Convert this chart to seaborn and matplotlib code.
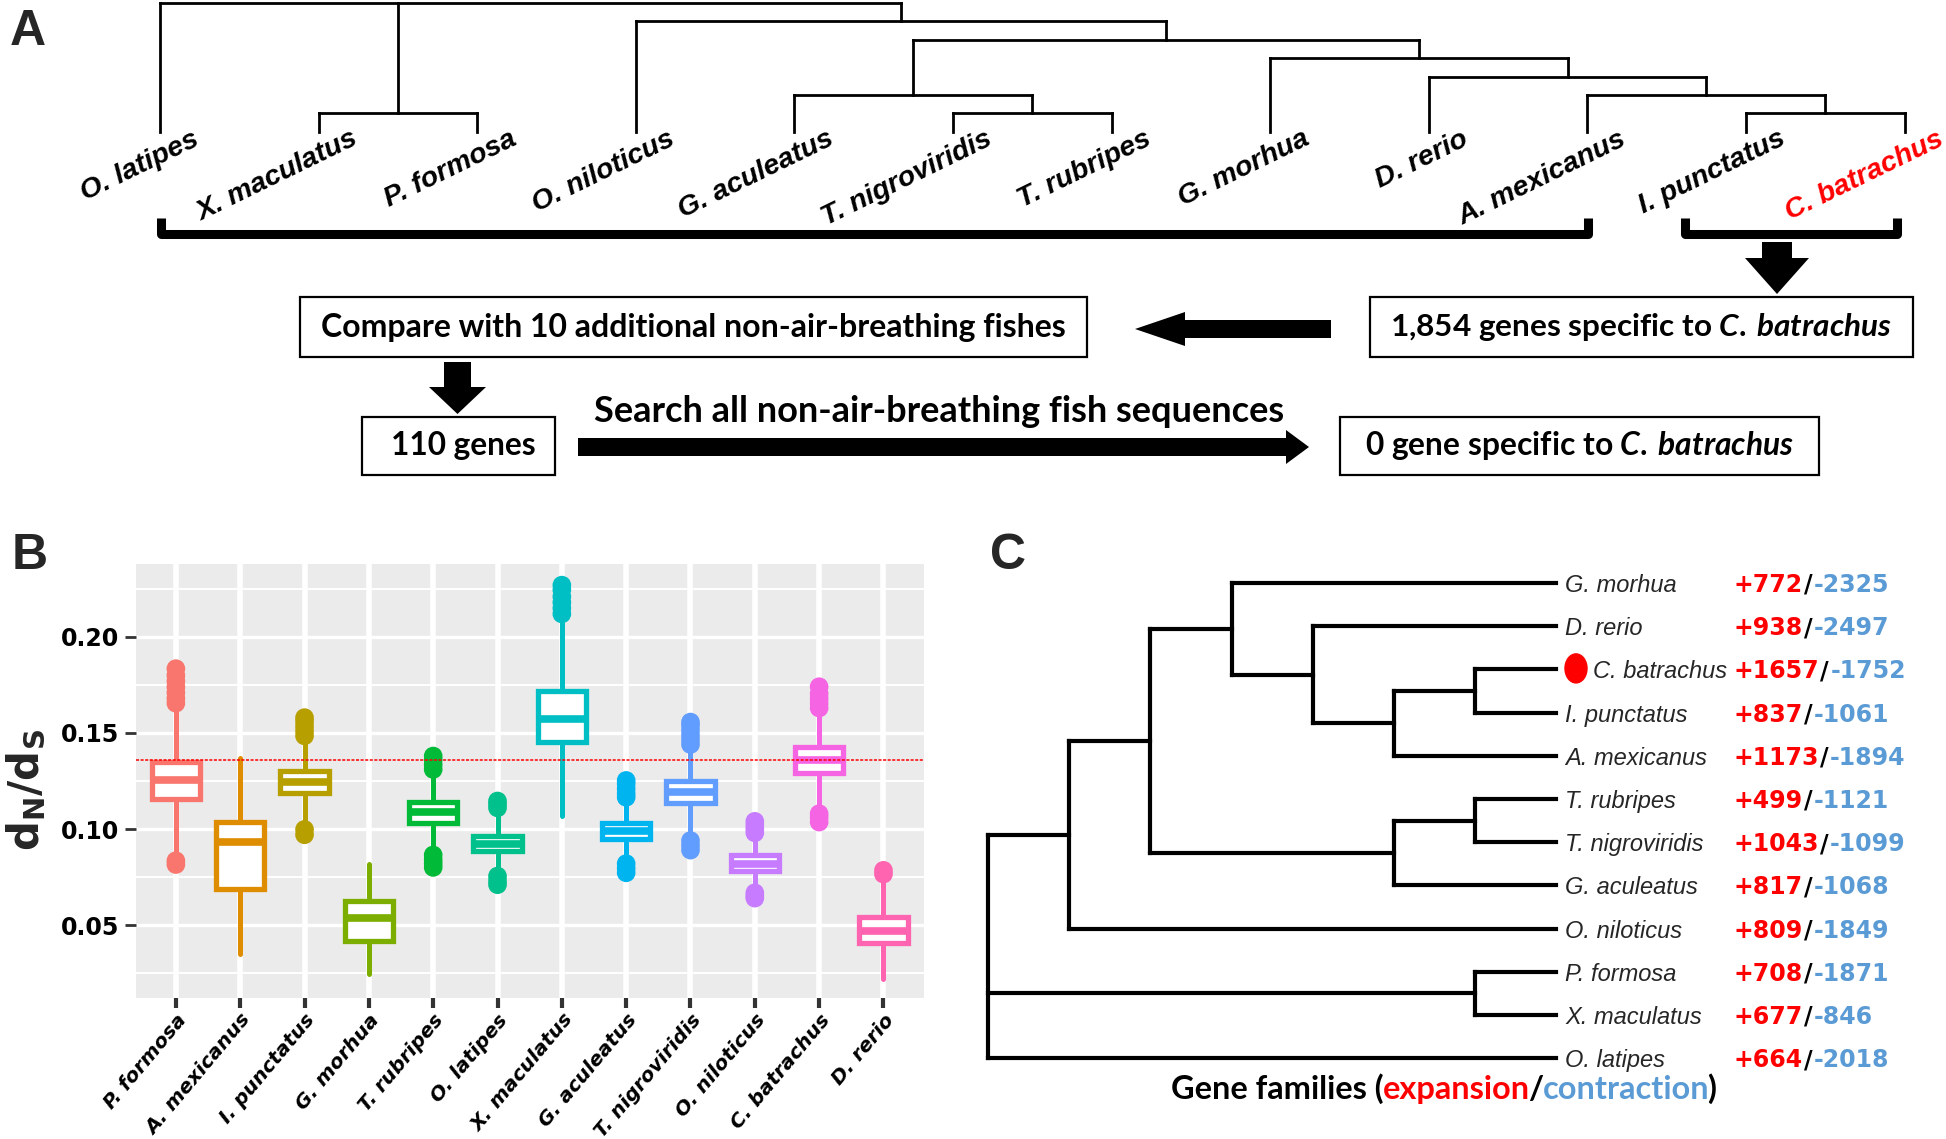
import matplotlib
matplotlib.use("Agg")
import matplotlib.pyplot as plt
from matplotlib.patches import Rectangle, Ellipse
from matplotlib.transforms import ScaledTranslation
import pandas as pd
import seaborn as sns

W, H = 1946, 1139

# ---- panel A: species tree and filtering steps
tree_a = ("O. latipes", ("X. maculatus", "P. formosa"),
          ("O. niloticus",
           (("G. aculeatus", ("T. nigroviridis", "T. rubripes")),
            ("G. morhua", ("D. rerio", ("A. mexicanus", ("I. punctatus", "C. batrachus")))))))
focal = "C. batrachus"
step_compare = "Compare with 10 additional non-air-breathing fishes"
step_specific = r"1,854 genes specific to $\mathit{C.\:batrachus}$"
step_110 = "110 genes"
step_search = "Search all non-air-breathing fish sequences"
step_zero = r"0 gene specific to $\mathit{C.\:batrachus}$"

# ---- panel B: dN/dS per species
species_b = ["P. formosa", "A. mexicanus", "I. punctatus", "G. morhua", "T. rubripes", "O. latipes",
             "X. maculatus", "G. aculeatus", "T. nigroviridis", "O. niloticus", "C. batrachus", "D. rerio"]
colors_b = ["#F8766D", "#DE8C00", "#B79F00", "#7CAE00", "#00BA38", "#00C08B",
            "#00BFC4", "#00B4F0", "#619CFF", "#C77CFF", "#F564E3", "#FF64B0"]
q1_b = [0.1154, 0.0688, 0.1189, 0.0418, 0.1033, 0.0883, 0.1455, 0.0949, 0.1133, 0.0781, 0.1293, 0.0404]
med_b = [0.1255, 0.0932, 0.1245, 0.0535, 0.1087, 0.0923, 0.1573, 0.0991, 0.1193, 0.0819, 0.1357, 0.0469]
q3_b = [0.1347, 0.1038, 0.1300, 0.0627, 0.1142, 0.0963, 0.1717, 0.1033, 0.1251, 0.0863, 0.1425, 0.0543]
lo_b = [0.0875, 0.0351, 0.1025, 0.0246, 0.0871, 0.0765, 0.1066, 0.0825, 0.0958, 0.0660, 0.1097, 0.0220]
hi_b = [0.1640, 0.1370, 0.1465, 0.0819, 0.1305, 0.1082, 0.2110, 0.1158, 0.1425, 0.0985, 0.1620, 0.0750]
out_hi_b = [[0.1655, 0.168, 0.171, 0.174, 0.177, 0.180, 0.1835],
            [],
            [0.1485, 0.151, 0.1535, 0.156, 0.158],
            [],
            [0.131, 0.1335, 0.136, 0.138],
            [0.111, 0.113, 0.1146],
            [0.212, 0.215, 0.218, 0.221, 0.2245, 0.227],
            [0.1165, 0.1185, 0.121, 0.1235, 0.1253],
            [0.144, 0.1465, 0.149, 0.1515, 0.154, 0.1557],
            [0.098, 0.100, 0.102, 0.104],
            [0.163, 0.1655, 0.168, 0.1705, 0.1741],
            [0.0765, 0.0785]]
out_lo_b = [[0.0835, 0.0815], [], [0.0998, 0.097], [], [0.0865, 0.084, 0.082, 0.080],
            [0.0755, 0.073, 0.071], [], [0.082, 0.0795, 0.0772], [0.094, 0.0915, 0.089],
            [0.0668, 0.0652, 0.064], [0.108, 0.106, 0.1036], []]
ref_b = 0.1357

# ---- panel C: gene family expansion / contraction
tree_c = (((("G. morhua", ("D. rerio", (("C. batrachus", "I. punctatus"), "A. mexicanus"))),
            (("T. rubripes", "T. nigroviridis"), "G. aculeatus")), "O. niloticus"),
          ("P. formosa", "X. maculatus"), "O. latipes")
expansion = [772, 938, 1657, 837, 1173, 499, 1043, 817, 809, 708, 677, 664]
contraction = [2325, 2497, 1752, 1061, 1894, 1121, 1099, 1068, 1849, 1871, 846, 2018]
RED, BLUE = "#FF0000", "#5B9BD5"

sns.set_theme(style="darkgrid", rc={"axes.facecolor": "#EBEBEB", "grid.color": "white"})
plt.rcParams["font.family"] = ["DejaVu Sans"]
plt.rcParams["mathtext.fontset"] = "custom"
plt.rcParams["mathtext.rm"] = "Lato:bold"
plt.rcParams["mathtext.it"] = "Lato:italic:bold"
plt.rcParams["mathtext.bf"] = "DejaVu Sans:bold"

fig = plt.figure(figsize=(W / 100, H / 100), dpi=100)
fig.patch.set_facecolor("white")
ax0 = fig.add_axes([0, 0, 1, 1])
ax0.set_xlim(0, W)
ax0.set_ylim(H, 0)
ax0.axis("off")


def leaves(t):
    return [t] if isinstance(t, str) else [l for c in t for l in leaves(c)]


def height(t):
    return 0 if isinstance(t, str) else 1 + max(height(c) for c in t)


def draw_tree(tree, leaf_pos, level_pos, leaf_axis_x, lw):
    n = height(tree)
    segs = []

    def walk(t):
        if isinstance(t, str):
            return leaf_pos[t], n
        kids = [walk(c) for c in t]
        lvl = n - height(t)
        segs.append(((kids[0][0], lvl), (kids[-1][0], lvl)))
        for kp, kl in kids:
            segs.append(((kp, lvl), (kp, kl)))
        return (kids[0][0] + kids[-1][0]) / 2, lvl

    walk(tree)
    for (p1, l1), (p2, l2) in segs:
        a, b = [p1, p2], [level_pos(l1), level_pos(l2)]
        if not leaf_axis_x:
            a, b = b, a
        ax0.plot(a, b, color="black", lw=lw, solid_capstyle="projecting")


def fit_width(t, width):
    r = fig.canvas.get_renderer()
    w = t.get_window_extent(r).width
    t.set_fontsize(t.get_fontsize() * width / w)
    return t


def rich(x, y, parts, size, ha="left", width=None, gap=0.0, **kw):
    r = fig.canvas.get_renderer()
    texts = [ax0.text(0, y, s, color=c, fontsize=size, va="baseline", ha="left", **kw) for s, c in parts]
    ws = [t.get_window_extent(r).width + gap for t in texts]
    if width is not None:
        k = width / sum(ws)
        for t in texts:
            t.set_fontsize(size * k)
        ws = [w * k for w in ws]
    x0 = x - sum(ws) / 2 if ha == "center" else x
    for t, w in zip(texts, ws):
        t.set_x(x0)
        x0 += w
    return texts


# ================= panel A =================
order_a = leaves(tree_a)
pos_a = {s: 160 + i * 158.6 for i, s in enumerate(order_a)}
draw_tree(tree_a, pos_a, lambda l: 3 + l * 18.4, True, 2.0)
for s in order_a:
    ax0.text(pos_a[s] + 32, 126, s, rotation=26, rotation_mode="anchor", ha="right", va="top",
             fontsize=20.5, fontstyle="italic", fontweight="bold", family=["Liberation Sans", "DejaVu Sans"],
             color=RED if s == focal else "black")

# brackets
ax0.plot([161, 161, 1588, 1588], [218, 234, 234, 218], color="black", lw=6.5,
         solid_joinstyle="round", solid_capstyle="butt")
ax0.plot([1685, 1685, 1897, 1897], [218, 234, 234, 218], color="black", lw=6.5,
         solid_joinstyle="round", solid_capstyle="butt")


def arrow(pts):
    xs, ys = zip(*pts)
    ax0.fill(xs, ys, color="black", lw=0)


arrow([(1762, 242), (1792, 242), (1792, 258), (1809, 258), (1777, 294), (1745, 258), (1762, 258)])
arrow([(1331, 320), (1185, 320), (1185, 312), (1135, 329), (1185, 346), (1185, 338), (1331, 338)])
arrow([(444, 362), (471, 362), (471, 387), (486, 387), (457.5, 414), (429, 387), (444, 387)])
arrow([(578, 438), (1286, 438), (1286, 430), (1309, 447), (1286, 464), (1286, 456), (578, 456)])

flow_font = dict(fontweight="bold", family=["Lato", "DejaVu Sans"], va="center", ha="center", color="black")
for (x0, y0, x1, y1), s, tx, ty, tw in [
        ((300, 297, 1087, 357), step_compare, 693, 327, 747),
        ((1370, 297, 1913, 357), step_specific, 1641, 327, 502),
        ((362, 417, 555, 475), step_110, 463, 446, 145),
        ((1340, 417, 1819, 475), step_zero, 1580, 446, 430)]:
    ax0.add_patch(Rectangle((x0, y0), x1 - x0, y1 - y0, fill=False, ec="black", lw=1.6))
    fit_width(ax0.text(tx, ty, s, fontsize=18, **flow_font), tw)
fit_width(ax0.text(939, 411, step_search, fontsize=18, **flow_font), 691)

# ================= panel B =================
axb = fig.add_axes([136 / W, 1 - 998 / H, (924 - 136) / W, (998 - 564) / H])
axb.set_facecolor("#EBEBEB")
for i, c in enumerate(colors_b):
    st = dict(label=species_b[i], q1=q1_b[i], med=med_b[i], q3=q3_b[i],
              whislo=lo_b[i], whishi=hi_b[i], fliers=[])
    axb.bxp([st], positions=[i], widths=0.75, showfliers=False, showcaps=False, patch_artist=True,
            boxprops=dict(facecolor="white", edgecolor=c, linewidth=3.8),
            medianprops=dict(color=c, linewidth=5.5, solid_capstyle="butt"),
            whiskerprops=dict(color=c, linewidth=3.6))

rows = [(s, i, v) for i, s in enumerate(species_b) for v in out_hi_b[i] + out_lo_b[i]]
df_out = pd.DataFrame(rows, columns=["species", "pos", "dnds"])
sns.scatterplot(data=df_out, x="pos", y="dnds", hue="species", palette=dict(zip(species_b, colors_b)),
                s=180, edgecolor="none", legend=False, ax=axb, zorder=3)
axb.axhline(ref_b, color="red", lw=1.1, ls=(0, (2, 1)), zorder=5)

axb.set_xlim(-0.62, 11.63)
axb.set_ylim(0.012, 0.238)
axb.set_yticks([0.05, 0.10, 0.15, 0.20])
axb.set_yticks([0.025, 0.075, 0.125, 0.175, 0.225], minor=True)
axb.set_yticklabels(["0.05", "0.10", "0.15", "0.20"], fontsize=17, fontweight="bold", color="black")
axb.set_xticks(range(len(species_b)))
axb.set_xticklabels(species_b, rotation=50, ha="right", va="top", rotation_mode="anchor")
for lab in axb.get_xticklabels():
    lab.set_fontfamily(["DejaVu Sans"])
    lab.set_fontsize(14.5)
    lab.set_fontstyle("oblique")
    lab.set_fontweight("bold")
    lab.set_color("black")
    lab.set_transform(lab.get_transform() + ScaledTranslation(0.12, 0, fig.dpi_scale_trans))
axb.grid(False)
axb.grid(which="major", axis="y", color="white", lw=2.4)
axb.grid(which="minor", axis="y", color="white", lw=1.4)
axb.grid(which="major", axis="x", color="white", lw=4.0)
axb.set_axisbelow(True)
axb.tick_params(axis="x", which="major", bottom=True, length=7, width=3, color="#333333", pad=2)
axb.tick_params(axis="y", which="major", left=True, length=8, width=2, color="#333333", pad=4)
axb.tick_params(which="minor", length=0)
for sp in axb.spines.values():
    sp.set_visible(False)
axb.set_xlabel("")
axb.set_ylabel("")
ax0.text(27, 790, r"$\mathbf{d_N/d_S}$", rotation=90, fontsize=30, ha="center", va="center")

# ================= panel C =================
order_c = leaves(tree_c)
pos_c = {s: 583 + i * 43.2 for i, s in enumerate(order_c)}
draw_tree(tree_c, pos_c, lambda l: 988 + l * 81.2, False, 3.0)
for i, s in enumerate(order_c):
    y = pos_c[s] + 9
    x = 1565
    if s == focal:
        ax0.add_patch(Ellipse((1576, pos_c[s] - 1), 22, 29, color="red"))
        x = 1593
    ax0.text(x, y, s, fontsize=17, fontstyle="italic", va="baseline",
             family=["Liberation Sans", "DejaVu Sans"])
    rich(1733, y, [(f"+{expansion[i]}", RED), ("/", "black"), (f"-{contraction[i]}", BLUE)],
         17, gap=1.5, fontweight="bold")

rich(1443, 1099, [("Gene families (", "black"), ("expansion", RED), ("/", "black"),
                  ("contraction", BLUE), (")", "black")], 20, ha="center", width=544, gap=-1.0,
     fontweight="bold", family=["Lato", "DejaVu Sans"])

# panel letters
for s, x, y in [("A", 10, 45), ("B", 12, 569), ("C", 990, 569)]:
    ax0.text(x, y, s, fontsize=36, fontweight="bold", va="baseline", family=["Liberation Sans", "DejaVu Sans"])

fig.savefig("out.png", dpi=100)
